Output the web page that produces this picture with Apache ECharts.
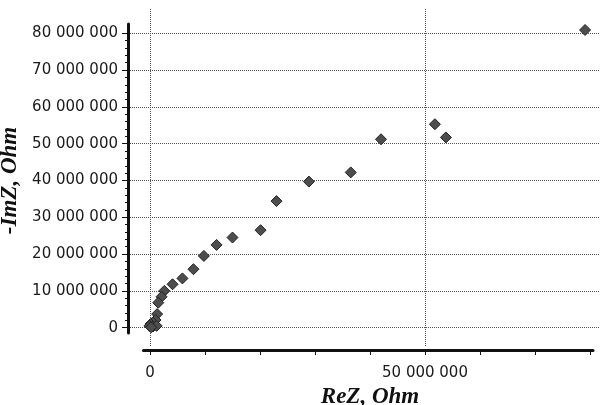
<!DOCTYPE html>
<html>
<head>
<meta charset="utf-8">
<script src="https://cdn.jsdelivr.net/npm/echarts@6/dist/echarts.min.js"></script>
<style>html,body{margin:0;padding:0;background:#fff}#c{width:602px;height:405px}</style>
</head>
<body>
<div id="c"></div>
<script>
// ReZ (Ohm) and -ImZ (Ohm)
const reZ = [79100000, 53800000, 51800000, 42000000, 36500000, 28900000, 23000000, 20100000,
  15000000, 12100000, 9800000, 7900000, 5900000, 4100000, 2600000, 2100000, 1500000, 1300000,
  1000000, 500000, 100000, -100000, 500000, 1200000, 200000];
const negImZ = [80900000, 51700000, 55300000, 51200000, 42200000, 39700000, 34400000, 26500000,
  24500000, 22500000, 19500000, 15900000, 13400000, 11800000, 10000000, 8400000, 6800000, 3700000,
  2100000, 1400000, 1000000, 500000, 300000, 500000, 100000];
const xLabelValues = [0, 50000000];
const xTitle = 'ReZ, Ohm';
const yTitle = '-ImZ, Ohm';

const fmt = v => String(v).replace(/\B(?=(\d{3})+(?!\d))/g, ' ');
const labelFont = {fontFamily: 'DejaVu Sans', fontSize: 15, color: '#1a1a1a'};
const nameFont = {fontFamily: 'Liberation Serif', fontSize: 23, fontWeight: 'bold', fontStyle: 'italic', color: '#111'};
const dotted = {type: 'dotted', color: '#555', width: 1};
const off = {show: false};
const g = o => Object.assign({outerBoundsMode: 'none', containLabel: false}, o);

const chart = echarts.init(document.getElementById('c'), null, {renderer: 'canvas'});
chart.setOption({
  animation: false,
  grid: [
    g({left: 128, right: 2, top: 33.3, bottom: 77.3}),   // data + horizontal grid + y labels
    g({left: 150, right: 177, top: 9, bottom: 58}),      // vertical grid
    g({left: 128, right: 2, top: 24, bottom: 72}),       // y axis line
    g({left: 143.5, right: 9, top: 9, bottom: 55}),      // x axis line
    g({left: 150, right: 12, top: 9, bottom: 55})        // x ticks + labels
  ],
  xAxis: [
    {gridIndex: 0, type: 'value', min: -4000000, max: 81818000, show: false},
    {gridIndex: 1, type: 'value', min: 0, max: 50000000, interval: 50000000,
      axisLine: off, axisTick: off, axisLabel: off, splitLine: {show: true, lineStyle: dotted}},
    {gridIndex: 2, type: 'value', show: false},
    {gridIndex: 3, type: 'value', min: 0, max: 1,
      axisLine: {show: true, onZero: false, lineStyle: {color: '#111', width: 3}},
      axisTick: off, axisLabel: off, splitLine: off},
    {gridIndex: 4, type: 'value', min: 0, max: 80000000, interval: 10000000,
      axisLine: {show: false, onZero: false},
      axisTick: {show: true, length: 5, lineStyle: {color: '#111', width: 1}},
      axisLabel: Object.assign({margin: 16, formatter: v => xLabelValues.includes(v) ? fmt(v) : ''}, labelFont),
      splitLine: off,
      name: xTitle, nameLocation: 'middle', nameGap: 35, nameTextStyle: nameFont}
  ],
  yAxis: [
    {gridIndex: 0, type: 'value', min: 0, max: 80000000, interval: 10000000,
      axisLine: {show: false, onZero: false},
      axisTick: {show: true, length: 6, lineStyle: {color: '#111', width: 1}},
      minorTick: {show: true, splitNumber: 5, length: 3, lineStyle: {color: '#111', width: 1}},
      axisLabel: Object.assign({margin: 10, formatter: fmt}, labelFont),
      splitLine: {show: true, lineStyle: dotted},
      name: yTitle, nameLocation: 'middle', nameGap: 103, nameRotate: 90, nameTextStyle: nameFont},
    {gridIndex: 1, type: 'value', show: false},
    {gridIndex: 2, type: 'value', min: 0, max: 1,
      axisLine: {show: true, onZero: false, lineStyle: {color: '#111', width: 3}},
      axisTick: off, axisLabel: off, splitLine: off},
    {gridIndex: 3, type: 'value', show: false},
    {gridIndex: 4, type: 'value', show: false}
  ],
  series: [{
    type: 'scatter', xAxisIndex: 0, yAxisIndex: 0, clip: false,
    symbol: 'diamond', symbolSize: 11,
    itemStyle: {color: '#4d4d4d', borderColor: '#222', borderWidth: 1, opacity: 1},
    data: reZ.map((x, i) => [x, negImZ[i]])
  }]
});
</script>
</body>
</html>
